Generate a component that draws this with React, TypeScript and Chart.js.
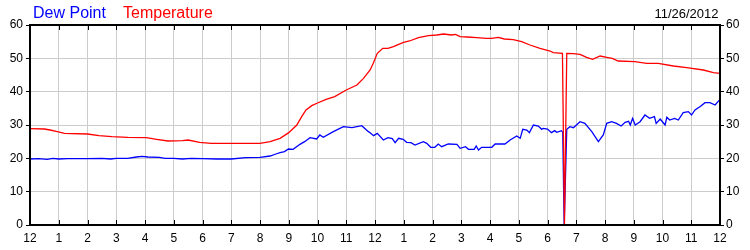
import React, { useEffect, useRef } from "react";
import { Chart, registerables } from "chart.js";

Chart.register(...registerables);

const tempHours = [0, 0.5, 0.7, 0.95, 1.2, 2.0, 2.4, 2.85, 3.4, 4.05, 4.4, 4.8, 5.3, 5.5, 5.9, 6.3, 7.0, 8.0, 8.35, 8.7, 9.0, 9.28, 9.45, 9.6, 9.8, 10.0, 10.3, 10.6, 11.0, 11.37, 11.6, 11.83, 11.94, 12.08, 12.27, 12.45, 12.64, 12.99, 13.2, 13.51, 13.86, 14.15, 14.38, 14.67, 14.8, 14.96, 15.2, 15.54, 15.88, 16.05, 16.29, 16.5, 16.81, 17.1, 17.39, 17.74, 18.09, 18.2, 18.52, 18.59, 18.67, 18.9, 19.13, 19.36, 19.57, 19.83, 20.06, 20.25, 20.46, 21.04, 21.45, 21.85, 22.38, 22.84, 23.42, 23.77, 24];
const tempValues = [28.9, 28.8, 28.5, 28.0, 27.5, 27.3, 26.8, 26.5, 26.3, 26.2, 25.7, 25.2, 25.3, 25.5, 24.8, 24.5, 24.5, 24.5, 25.0, 26.0, 27.7, 30.0, 32.5, 34.5, 35.8, 36.6, 37.7, 38.5, 40.5, 42.0, 44.0, 46.5, 48.5, 51.5, 53.0, 53.0, 53.5, 54.8, 55.2, 56.2, 56.8, 57.0, 57.3, 57.0, 57.2, 56.5, 56.4, 56.2, 56.0, 56.0, 56.3, 55.8, 55.6, 55.0, 54.0, 53.0, 52.2, 51.7, 51.5, 0, 51.5, 51.4, 51.2, 50.3, 49.7, 50.7, 50.3, 50.0, 49.2, 49.0, 48.5, 48.5, 47.7, 47.2, 46.5, 45.7, 45.5];

const dewHours = [0, 0.3, 0.6, 0.8, 1.0, 1.3, 2.0, 2.5, 2.8, 3.0, 3.4, 3.7, 3.9, 4.1, 4.5, 4.7, 5.0, 5.3, 5.6, 6.0, 6.5, 7.0, 7.5, 8.0, 8.35, 8.55, 8.7, 8.85, 8.99, 9.15, 9.39, 9.55, 9.74, 9.97, 10.08, 10.2, 10.55, 10.9, 11.2, 11.54, 11.77, 11.83, 11.95, 12.08, 12.29, 12.45, 12.6, 12.7, 12.82, 12.98, 13.1, 13.25, 13.39, 13.68, 13.8, 13.94, 14.08, 14.2, 14.32, 14.55, 14.85, 14.96, 15.15, 15.25, 15.45, 15.52, 15.6, 15.71, 16.06, 16.18, 16.52, 16.7, 16.93, 17.05, 17.14, 17.28, 17.37, 17.51, 17.68, 17.8, 17.85, 18.0, 18.14, 18.25, 18.32, 18.49, 18.53, 18.58, 18.67, 18.78, 18.9, 19.13, 19.3, 19.54, 19.77, 19.94, 20.06, 20.23, 20.4, 20.56, 20.7, 20.82, 20.88, 20.96, 21.05, 21.22, 21.39, 21.55, 21.72, 21.78, 21.92, 22.09, 22.15, 22.25, 22.42, 22.55, 22.72, 22.9, 23.01, 23.13, 23.3, 23.48, 23.65, 23.83, 24];
const dewValues = [19.8, 19.9, 19.7, 20.0, 19.8, 19.9, 19.9, 20.0, 19.8, 20.0, 20.0, 20.4, 20.6, 20.4, 20.3, 20.0, 20.0, 19.8, 20.0, 19.9, 19.8, 19.8, 20.2, 20.3, 20.7, 21.3, 21.7, 22.0, 22.8, 22.7, 24.2, 25.0, 26.2, 25.8, 27.0, 26.3, 28.0, 29.5, 29.2, 29.8, 28.0, 27.7, 26.8, 27.5, 25.5, 26.2, 25.9, 24.7, 26.0, 25.7, 24.8, 24.7, 24.0, 25.0, 24.5, 23.3, 23.3, 24.3, 23.5, 24.3, 24.2, 23.0, 23.5, 22.7, 22.7, 23.7, 22.5, 23.3, 23.3, 24.3, 24.3, 25.5, 26.7, 26.0, 28.7, 28.5, 27.7, 30.0, 29.7, 28.7, 29.0, 28.8, 27.7, 28.3, 27.8, 28.3, 27.8, 0, 28.7, 29.5, 29.2, 31.0, 30.5, 28.0, 25.0, 27.0, 30.5, 31.0, 30.5, 29.7, 30.8, 31.1, 30.0, 32.0, 30.0, 31.0, 33.0, 32.0, 32.5, 30.5, 31.8, 30.0, 32.3, 31.5, 32.0, 31.5, 33.7, 34.0, 33.0, 34.5, 35.5, 36.7, 36.7, 36.0, 37.7];

const hourTicks = [0, 1, 2, 3, 4, 5, 6, 7, 8, 9, 10, 11, 12, 13, 14, 15, 16, 17, 18, 19, 20, 21, 22, 23, 24];
const hourLabels = ["12", "1", "2", "3", "4", "5", "6", "7", "8", "9", "10", "11", "12", "1", "2", "3", "4", "5", "6", "7", "8", "9", "10", "11", "12"];
const seriesNames = ["Dew Point", "Temperature"];
const dateLabel = "11/26/2012";

const FONT = "'Liberation Sans', Arial, sans-serif";

const framePlugin = {
  id: "frame",
  afterDatasetsDraw(chart: any) {
    const { ctx, chartArea } = chart;
    const { left, right, top, bottom } = chartArea;
    const xs = chart.scales.x;
    ctx.save();
    ctx.strokeStyle = "#000";
    ctx.lineWidth = 2;
    ctx.strokeRect(left, top, right - left, bottom - top);
    ctx.lineWidth = 1;
    ctx.beginPath();
    for (const h of hourTicks) {
      if (h === xs.min || h === xs.max) continue;
      const px = Math.round(xs.getPixelForValue(h)) + 0.5;
      ctx.moveTo(px, bottom);
      ctx.lineTo(px, bottom - 5);
      ctx.moveTo(px, top);
      ctx.lineTo(px, top + 5);
    }
    ctx.stroke();
    ctx.restore();
  },
  afterDraw(chart: any) {
    const { ctx } = chart;
    ctx.save();
    ctx.textBaseline = "alphabetic";
    ctx.font = `16px ${FONT}`;
    ctx.textAlign = "left";
    ctx.fillStyle = "#0000ff";
    ctx.fillText(seriesNames[0], 33, 17.5);
    ctx.fillStyle = "#ff0000";
    ctx.fillText(seriesNames[1], 123, 17.5);
    ctx.font = `13px ${FONT}`;
    ctx.fillStyle = "#000";
    ctx.textAlign = "right";
    ctx.fillText(dateLabel, 718.5, 17.5);
    ctx.restore();
  },
};

export default function App() {
  const ref = useRef<HTMLCanvasElement>(null);
  useEffect(() => {
    if (!ref.current) return;
    const tickCb = (v: any) => {
      const i = hourTicks.indexOf(Number(v));
      return i >= 0 ? hourLabels[i] : "";
    };
    const chart = new Chart(ref.current, {
      type: "line",
      data: {
        datasets: [
          {
            label: seriesNames[1],
            data: tempHours.map((h, i) => ({ x: h, y: tempValues[i] })),
            borderColor: "#ff0000",
            borderWidth: 1.3,
            pointRadius: 0,
            tension: 0,
            yAxisID: "y",
          },
          {
            label: seriesNames[0],
            data: dewHours.map((h, i) => ({ x: h, y: dewValues[i] })),
            borderColor: "#0000ff",
            borderWidth: 1.3,
            pointRadius: 0,
            tension: 0,
            yAxisID: "y",
          },
        ],
      },
      options: {
        responsive: false,
        animation: false,
        layout: { padding: { top: 25, left: 0, right: 0, bottom: 0 } },
        plugins: { legend: { display: false }, tooltip: { enabled: false } },
        scales: {
          x: {
            type: "linear",
            min: 0,
            max: 24,
            afterFit: (s: any) => { s.height = 25; },
            afterBuildTicks: (s: any) => { s.ticks = hourTicks.map((v) => ({ value: v })); },
            ticks: {
              stepSize: 1,
              autoSkip: false,
              maxRotation: 0,
              padding: 6,
              color: "#000",
              font: { family: FONT, size: 12 },
              callback: tickCb,
            },
            grid: { color: "#cccccc", drawTicks: false, lineWidth: 1 },
            border: { display: false },
          },
          y: {
            position: "left",
            min: 0,
            max: 60,
            afterFit: (s: any) => { s.width = 30; },
            ticks: { stepSize: 10, padding: 3, color: "#000", font: { family: FONT, size: 12 } },
            grid: { color: "#cccccc", tickColor: "#000", tickLength: 4, lineWidth: 1 },
            border: { display: false },
          },
          y2: {
            position: "right",
            min: 0,
            max: 60,
            afterFit: (s: any) => { s.width = 30; },
            ticks: { stepSize: 10, padding: 2, color: "#000", font: { family: FONT, size: 12 } },
            grid: { drawOnChartArea: false, tickColor: "#000", tickLength: 4 },
            border: { display: false },
          },
        },
      },
      plugins: [framePlugin],
    } as any);
    return () => chart.destroy();
  }, []);
  return (
    <div style={{ position: "absolute", left: 0, top: 0, width: 750, height: 250, background: "#fff" }}>
      <canvas ref={ref} width={750} height={250} style={{ display: "block" }} />
    </div>
  );
}
